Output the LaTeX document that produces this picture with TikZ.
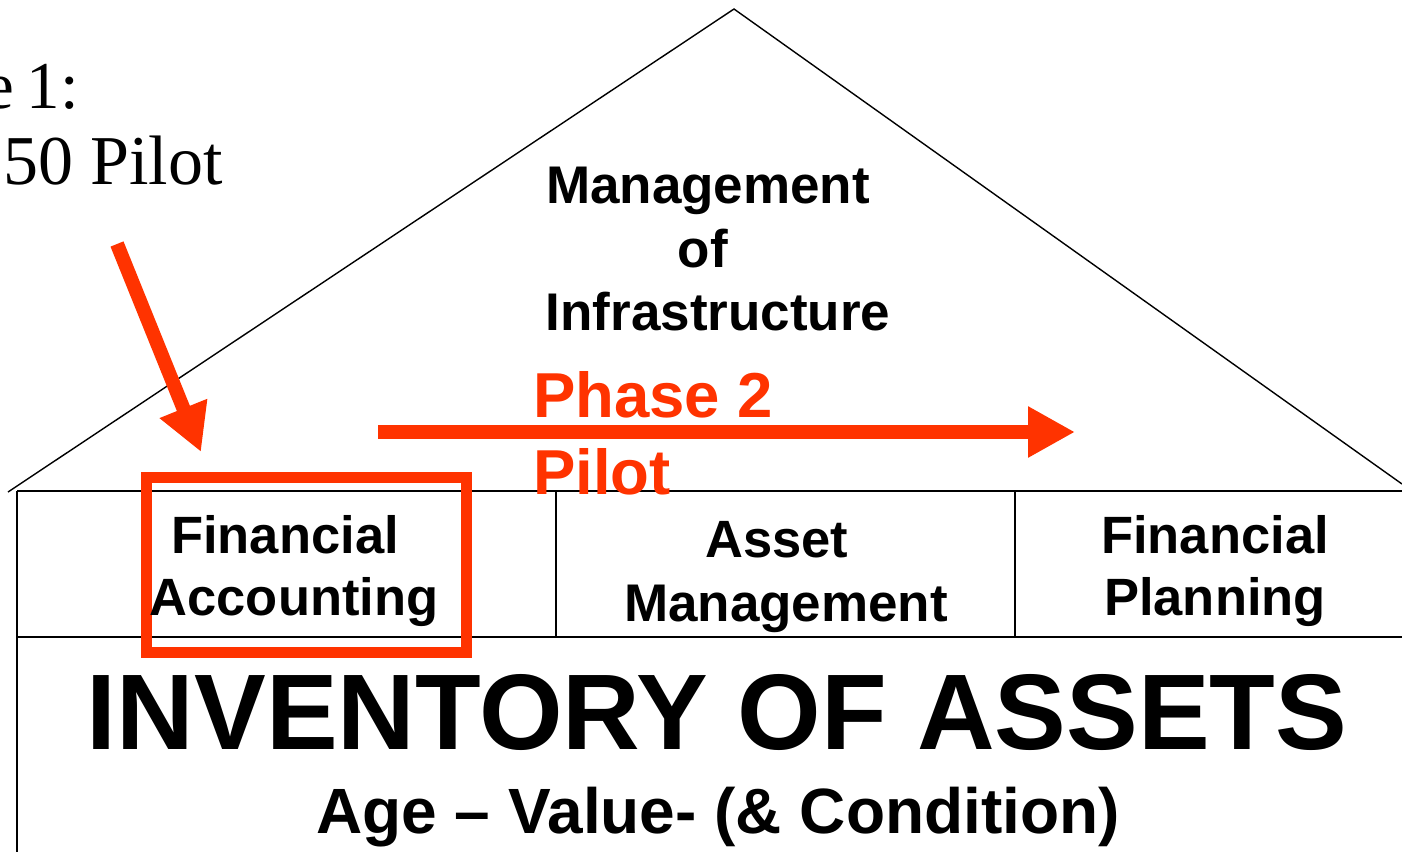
\documentclass[tikz,border=0pt]{standalone}
\usepackage{fontspec}
\setmainfont{Liberation Sans}
\newfontfamily\timesfam{Liberation Serif}
\usetikzlibrary{arrows.meta}
\definecolor{hotred}{RGB}{255,51,0}
\tikzset{
  frame/.style={line width=1.6pt, draw=black},
  redbox/.style={line width=11pt, draw=hotred},
  redarrow/.style={line width=14pt, draw=hotred, -{Triangle[length=47pt,width=48pt]}},
  lbl/.style={inner sep=0pt, anchor=base, font=\bfseries\fontsize{#1}{#1}\selectfont},
  serlbl/.style={inner sep=0pt, anchor=base east, font=\timesfam\fontsize{#1}{#1}\selectfont},
}
\begin{document}
\begin{tikzpicture}[x=1pt,y=-1pt]
\useasboundingbox (0,0) rectangle (1402,852);
% house outline
\coordinate (apex) at (734,9);
\coordinate (roofL) at (8,492);
\coordinate (roofR) at (1402,484);
\draw[frame, line width=1.4pt] (roofL) -- (apex) -- (roofR);
\coordinate (tl) at (17,491);
\coordinate (tr) at (1402,491);
\coordinate (ml) at (17,637);
\coordinate (mr) at (1402,637);
\coordinate (bl) at (17,852);
\draw[frame] (tl) -- (tr);
\draw[frame] (ml) -- (mr);
\draw[frame] (tl) -- (bl);
\draw[frame] (556,491) -- (556,637);
\draw[frame] (1015,491) -- (1015,637);
% red highlight box
\draw[redbox] (146,477) rectangle (466,652);
% arrows
\coordinate (d1) at (117,244);
\coordinate (d2) at (201,452);
\draw[redarrow] (d1) -- (d2);
\coordinate (h1) at (378,432);
\coordinate (h2) at (1075,432);
\draw[redarrow] (h1) -- (h2);
% texts
\node[serlbl=67] (ph1a) at (79,108) {e\hspace{12pt}1:};
\node[serlbl=70] (ph1b) at (223,184) {50 Pilot};
\node[lbl=53] (m1) at (708,203) {Management};
\node[lbl=53] (m2) at (703,267) {of};
\node[lbl=53] (m3) at (718,330) {Infrastructure};
\node[lbl=63.5, anchor=base west, text=hotred] (p2a) at (533,417) {Phase 2};
\node[lbl=63.5, anchor=base west, text=hotred] (p2b) at (533,494) {Pilot};
\node[lbl=52.5] (fa1) at (285,553) {Financial};
\node[lbl=52.5] (fa2) at (294,615) {Accounting};
\node[lbl=52.5] (am1) at (777,557) {Asset};
\node[lbl=53] (am2) at (786,621) {Management};
\node[lbl=52.5] (fp1) at (1215,553) {Financial};
\node[lbl=52.5] (fp2) at (1215,615) {Planning};
\node[lbl=107.5] (inv) at (717,749) {INVENTORY OF ASSETS};
\node[lbl=64] (age) at (718,833) {Age – Value- (\& Condition)};
\end{tikzpicture}
\end{document}
